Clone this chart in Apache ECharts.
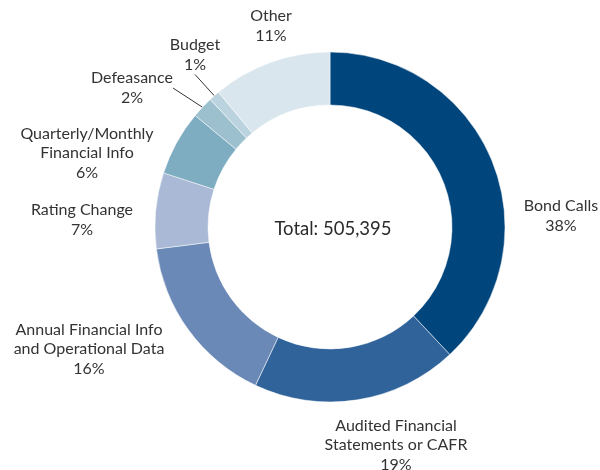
<!DOCTYPE html>
<html>
<head>
<meta charset="utf-8">
<script src="https://cdn.jsdelivr.net/npm/echarts@6/dist/echarts.min.js"></script>
<style>
  html, body { margin: 0; padding: 0; background: #fff; }
  #chart { width: 600px; height: 470px; }
</style>
</head>
<body>
<div id="chart"></div>
<script>
// categories, clockwise from 12 o'clock
const categories = [
  'Bond Calls',
  'Audited Financial\nStatements or CAFR',
  'Annual Financial Info\nand Operational Data',
  'Rating Change',
  'Quarterly/Monthly\nFinancial Info',
  'Defeasance',
  'Budget',
  'Other'
]
// share of total, percent
const shares = [38, 19, 16, 7, 6, 2, 1, 11]
const totalLabel = 'Total: 505,395'

const colors = ['#01457d', '#30639a', '#6a89b7', '#a9b9d6', '#7eacc0', '#9dc0cf', '#bad3de', '#dae6ed']
const centerX = 330
const centerY = 227
const outerR = 175
const innerR = 122
// where each label's text block sits, relative to the pie centre
const labelOffsets = [
  [231, -11], [66, 218], [-241, 122], [-248, -7],
  [-243, -74], [-198, -139], [-135, -172], [-59, -201]
]

const chart = echarts.init(document.getElementById('chart'))

chart.setOption({
  animation: false,
  title: {
    text: totalLabel,
    left: centerX - 2,
    top: centerY - 3,
    textAlign: 'center',
    textVerticalAlign: 'middle',
    textStyle: {
      fontFamily: 'Lato',
      fontSize: 18.5,
      fontWeight: 'normal',
      color: '#2b2b2b'
    }
  },
  series: [
    {
      type: 'pie',
      center: [centerX, centerY],
      radius: [innerR, outerR],
      startAngle: 90,
      clockwise: true,
      avoidLabelOverlap: false,
      itemStyle: {
        borderColor: '#fff',
        borderWidth: 0.5
      },
      label: {
        show: true,
        position: 'outside',
        formatter: '{b}\n{c}%',
        fontFamily: 'Lato',
        fontSize: 16,
        lineHeight: 19.5,
        color: '#333',
        align: 'center'
      },
      labelLine: {
        show: false
      },
      labelLayout: function (params) {
        const o = labelOffsets[params.dataIndex]
        return {
          x: centerX + o[0],
          y: centerY + o[1],
          align: 'center',
          verticalAlign: 'middle'
        }
      },
      data: categories.map((name, i) => ({
        name: name,
        value: shares[i],
        itemStyle: { color: colors[i] },
        // the two thinnest slices point to their labels
        labelLine: shares[i] < 3
          ? { show: true, length: 10, length2: 0, lineStyle: { color: '#333', width: 1 } }
          : { show: false }
      }))
    }
  ]
})
</script>
</body>
</html>
